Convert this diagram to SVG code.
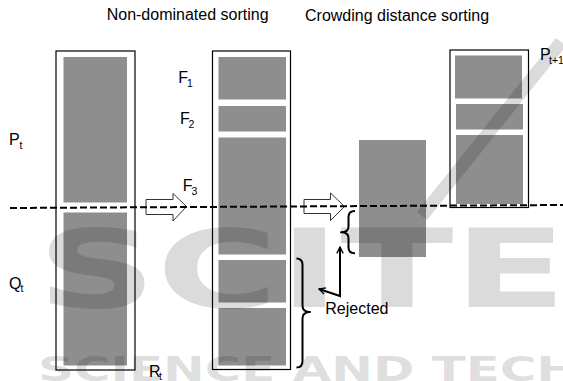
<svg xmlns="http://www.w3.org/2000/svg" width="563" height="381" viewBox="0 0 563 381">
<style>
.box{fill:none;stroke:#000;stroke-width:1.2}
.blk{fill:#8e8e8e}
.lbl{font-family:"Liberation Sans",Arial,sans-serif;font-size:16px;fill:#000}
.sub{font-size:10.5px}
.blockarrow{fill:#fff;stroke:#333;stroke-width:1}
.brace{fill:none;stroke:#000;stroke-width:2;stroke-linejoin:round}
.wm{font-family:"DejaVu Sans",sans-serif;font-weight:bold;fill:#000;fill-opacity:0.14}
</style>
<defs>
<marker id="ah" viewBox="0 0 10 10" refX="9" refY="5" markerWidth="8" markerHeight="8" markerUnits="userSpaceOnUse" orient="auto-start-reverse">
<path d="M1,1 L9,5 L1,9" fill="none" stroke="#000" stroke-width="1.6"/>
</marker>
</defs>
<rect width="563" height="381" fill="#fff"/>

<g id="Rt">
<rect class="box" x="56" y="51" width="79" height="319"/>
<rect class="blk" x="63.5" y="57" width="63.5" height="145.5"/>
<rect class="blk" x="63.5" y="212.5" width="63.5" height="153"/>
</g>

<g id="fronts">
<rect class="box" x="212.5" y="51" width="78" height="318.5"/>
<rect class="blk" x="218.5" y="57" width="67.5" height="42.5"/>
<rect class="blk" x="218.5" y="106" width="67.5" height="25.5"/>
<rect class="blk" x="218.5" y="137.5" width="67.5" height="117"/>
<rect class="blk" x="218.5" y="260" width="67.5" height="42.5"/>
<rect class="blk" x="218.5" y="308" width="67.5" height="57.5"/>
</g>

<g id="crowding">
<rect class="blk" x="359" y="140" width="67" height="117"/>
</g>

<g id="Pt1">
<rect class="box" x="450" y="50" width="78.5" height="157.5"/>
<rect class="blk" x="455" y="55.5" width="67" height="43"/>
<rect class="blk" x="456" y="104" width="67" height="25.5"/>
<rect class="blk" x="456" y="135" width="67" height="69"/>
</g>

<g id="connectors">
<polygon class="blockarrow" points="146,199.5 173,199.5 173,193.5 186.5,206.5 173,221 173,214.5 146,214.5"/>
<polygon class="blockarrow" points="304,199.5 330.5,199.5 330.5,193 344.5,206.5 330.5,220.5 330.5,213.5 304,213.5"/>
<line x1="10" y1="208" x2="563" y2="205" stroke="#000" stroke-width="2" stroke-dasharray="7,3"/>
<path class="brace" d="M355,211 Q348.5,211 348.5,217 L348.5,226.5 Q348.5,232.3 341,232.3 Q348.5,232.3 348.5,238 L348.5,247.5 Q348.5,253.3 355,253.3"/>
<path class="brace" d="M296.5,258.5 Q302.5,258.5 302.5,265 L302.5,305.5 Q302.5,312 310,312 Q302.5,312 302.5,318.5 L302.5,361 Q302.5,367.5 296.5,367.5"/>
<path d="M340,247 L340,296 L319,289" fill="none" stroke="#000" stroke-width="2" marker-start="url(#ah)" marker-end="url(#ah)"/>
</g>

<g id="watermark">
<text class="wm" x="37" y="307" font-size="108" textLength="530" lengthAdjust="spacingAndGlyphs">SCITE</text>
<line x1="561" y1="42" x2="422" y2="216" stroke="#000" stroke-opacity="0.14" stroke-width="13"/>
<text class="wm" x="38" y="381" font-size="34" textLength="540" lengthAdjust="spacingAndGlyphs">SCIENCE AND TECH</text>
</g>

<g id="labels">
<text class="lbl" x="106.7" y="20">Non-dominated sorting</text>
<text class="lbl" x="305" y="21">Crowding distance sorting</text>
<text class="lbl" x="9" y="145" font-size="15">P<tspan class="sub" x="19.5" y="148.5">t</tspan></text>
<text class="lbl" x="9" y="289">Q<tspan class="sub" x="20.5" y="292">t</tspan></text>
<text class="lbl" x="149" y="377">R<tspan class="sub" x="159" y="380">t</tspan></text>
<text class="lbl" x="178.3" y="83.3">F<tspan class="sub" x="187" y="87">1</tspan></text>
<text class="lbl" x="180" y="124">F<tspan class="sub" x="188.5" y="128">2</tspan></text>
<text class="lbl" x="182.7" y="190.7">F<tspan class="sub" x="191.5" y="195">3</tspan></text>
<text class="lbl" x="540" y="60">P<tspan class="sub" x="549" y="64">t+1</tspan></text>
<text class="lbl" x="325.3" y="314.3" font-size="15.5">Rejected</text>
</g>
</svg>
